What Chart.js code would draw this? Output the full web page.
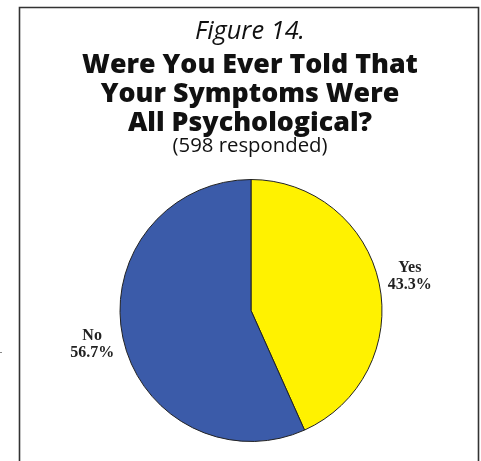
<!DOCTYPE html>
<html>
<head>
<meta charset="utf-8">
<script src="https://cdn.jsdelivr.net/npm/chart.js@4"></script>
<style>
html,body{margin:0;padding:0;background:#fff;}
#wrap{position:relative;width:481px;height:461px;}
canvas{display:block;}
</style>
</head>
<body>
<div id="wrap"><canvas id="c" width="481" height="461"></canvas></div>
<script>
const categories = ['Yes', 'No'];
const values = [43.3, 56.7];
const percentLabels = ['43.3%', '56.7%'];
const colors = ['#FFF200', '#3B5BA9'];
const figureLabel = 'Figure 14.';
const titleLines = ['Were You Ever Told That', 'Your Symptoms Were', 'All Psychological?'];
const subtitle = '(598 responded)';

function fitFont(ctx, style, family, text, baseSize, targetWidth) {
  ctx.font = style + ' ' + baseSize + 'px ' + family;
  const w = ctx.measureText(text).width;
  const size = baseSize * targetWidth / w;
  ctx.font = style + ' ' + size.toFixed(2) + 'px ' + family;
}

const frame = {
  id: 'frame',
  beforeDraw(chart) {
    const ctx = chart.ctx;
    ctx.save();
    ctx.strokeStyle = '#333';
    ctx.lineWidth = 1.6;
    ctx.beginPath();
    ctx.moveTo(19.5, 470);
    ctx.lineTo(19.5, 7.5);
    ctx.lineTo(478.5, 7.5);
    ctx.lineTo(478.5, 470);
    ctx.stroke();
    ctx.strokeStyle = '#888';
    ctx.lineWidth = 1;
    ctx.beginPath();
    ctx.moveTo(0, 352.5);
    ctx.lineTo(2, 352.5);
    ctx.stroke();
    ctx.fillStyle = '#111';
    ctx.textAlign = 'center';
    ctx.textBaseline = 'alphabetic';
    const cx = 250;
    fitFont(ctx, 'italic 400', '"Open Sans"', figureLabel, 22, 110);
    ctx.fillText(figureLabel, cx, 39);
    fitFont(ctx, '800', '"Open Sans"', titleLines[0], 25, 336);
    titleLines.forEach((t, i) => ctx.fillText(t, cx, 73 + i * 29));
    fitFont(ctx, '400', '"Open Sans"', subtitle, 19, 155);
    ctx.fillText(subtitle, cx, 152);
    ctx.restore();
  },
  afterDatasetsDraw(chart) {
    const ctx = chart.ctx;
    const meta = chart.getDatasetMeta(0);
    ctx.save();
    ctx.fillStyle = '#222';
    ctx.textAlign = 'center';
    ctx.textBaseline = 'middle';
    ctx.font = 'bold 16px "Liberation Serif"';
    meta.data.forEach((arc, i) => {
      const mid = (arc.startAngle + arc.endAngle) / 2;
      const d = arc.outerRadius * 1.24;
      const x = arc.x + Math.cos(mid) * d;
      const y = arc.y + Math.sin(mid) * d;
      ctx.fillText(categories[i], x, y - 8.5);
      ctx.fillText(percentLabels[i], x, y + 8.5);
    });
    ctx.restore();
  }
};

new Chart(document.getElementById('c'), {
  type: 'pie',
  data: {
    labels: categories,
    datasets: [{
      data: values,
      backgroundColor: colors,
      borderColor: '#222',
      borderWidth: 1
    }]
  },
  options: {
    responsive: false,
    animation: false,
    radius: 131,
    layout: { padding: { left: 21, right: 0, top: 170, bottom: 10 } },
    plugins: {
      legend: { display: false },
      tooltip: { enabled: false },
      title: { display: false }
    }
  },
  plugins: [frame]
});
</script>
</body>
</html>
